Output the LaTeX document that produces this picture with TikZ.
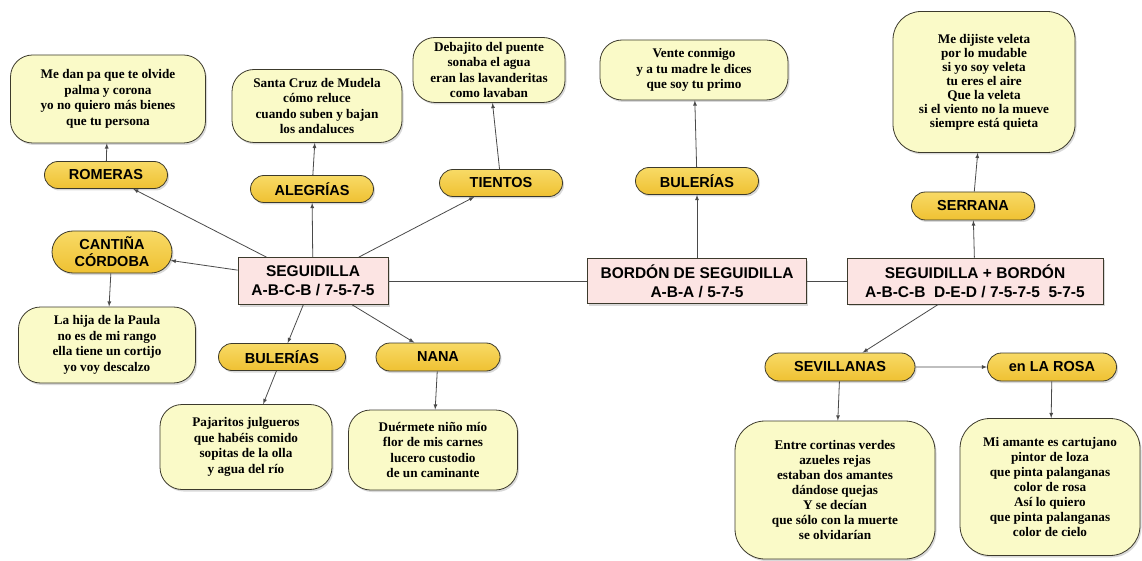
\documentclass[tikz,border=0pt]{standalone}
\usepackage{fontspec}
\setmainfont{Liberation Serif}
\setsansfont{Liberation Sans}
\usetikzlibrary{shapes.misc, arrows, shadows, scopes}
\definecolor{vfill}{HTML}{FAFAC8}
\definecolor{ytop}{HTML}{F8DA66}
\definecolor{ybot}{HTML}{EFC132}
\definecolor{pfill}{HTML}{FCE4E3}
\definecolor{bord}{HTML}{3C3A2C}
\definecolor{lgray}{HTML}{4A4A4A}
\tikzset{
  >= latex,
  sz/.style 2 args={minimum width=#1, minimum height=#2},
  shd/.style={drop shadow={opacity=0.3, shadow xshift=1.5pt, shadow yshift=-2pt}},
  vb/.style={rectangle, rounded corners=#1, draw=bord, fill=vfill, thick, align=center, inner sep=2pt,
    font=\bfseries\fontsize{13.2}{15.5}\selectfont, shd},
  vb/.default=22pt,
  fb/.style={rounded rectangle, draw=bord, top color=ytop, bottom color=ybot, thick, align=center,
    inner sep=0pt, sz={123pt}{27pt}, font=\sffamily\bfseries\fontsize{14.5}{17}\selectfont, shd},
  mb/.style={rectangle, draw=bord, fill=pfill, thick, align=center, inner sep=0pt,
    font=\sffamily\bfseries\fontsize{15.5}{19}\selectfont, shd},
  ln/.style={draw=lgray, line width=0.8pt}
}
\begin{document}
\begin{tikzpicture}[x=1pt, y=-1pt]
  \useasboundingbox (0,0) rectangle (1142,561);
  % formas principales
  \node[mb, sz={150pt}{47pt}] (seg) at (313,281) {SEGUIDILLA\\A-B-C-B / 7-5-7-5};
  \node[mb, sz={219pt}{45pt}] (bor) at (697,281) {BORD\'ON DE SEGUIDILLA\\A-B-A / 5-7-5};
  \node[mb, sz={256pt}{46pt}] (segb) at (975,281) {SEGUIDILLA + BORD\'ON\\A-B-C-B\ \ D-E-D / 7-5-7-5\ \ 5-7-5};
  % palos
  \node[fb] (rom) at (106,175) {ROMERAS};
  \node[fb] (ale) at (312,189) {ALEGR\'IAS};
  \node[fb] (tie) at (501,183) {TIENTOS};
  \node[fb] (bul) at (697,181) {BULER\'IAS};
  \node[fb, sz={123pt}{28pt}] (ser) at (973,206) {SERRANA};
  \node[fb, sz={120pt}{42pt}] (can) at (112,252) {CANTI\~NA\\C\'ORDOBA};
  \node[fb, sz={127pt}{27pt}] (bulb) at (282,357) {BULER\'IAS};
  \node[fb, sz={124pt}{28pt}] (nan) at (438,357) {NANA};
  \node[fb, sz={150pt}{28pt}] (sev) at (840,367) {SEVILLANAS};
  \node[fb, sz={129pt}{28pt}] (ros) at (1052,367) {en LA ROSA};
  % coplas
  \node[vb, sz={195pt}{88pt}] (vrom) at (108,99) {Me dan pa que te olvide\\palma y corona\\yo no quiero m\'as bienes\\que tu persona};
  \node[vb, sz={170pt}{73pt}] (vale) at (317,106) {Santa Cruz de Mudela\\c\'omo reluce\\cuando suben y bajan\\los andaluces};
  \node[vb, sz={152pt}{65pt}] (vtie) at (489,70) {Debajito del puente\\sonaba el agua\\eran las lavanderitas\\como lavaban};
  \node[vb, sz={188pt}{60pt}] (vbul) at (694,70) {Vente conmigo\\y a tu madre le dices\\que soy tu primo};
  \node[vb=28pt, sz={182pt}{141pt}, font=\bfseries\fontsize{13.2}{14}\selectfont] (vser) at (984,82) {Me dijiste veleta\\por lo mudable\\si yo soy veleta\\tu eres el aire\\Que la veleta\\si el viento no la mueve\\siempre est\'a quieta};
  \node[vb, sz={177pt}{76pt}] (vcan) at (107,345) {La hija de la Paula\\no es de mi rango\\ella tiene un cortijo\\yo voy descalzo};
  \node[vb, sz={172pt}{85pt}] (vpaj) at (246,447) {Pajaritos julgueros\\que hab\'eis comido\\sopitas de la olla\\y agua del r\'io};
  \node[vb, sz={169pt}{80pt}] (vdue) at (433,450) {Du\'ermete ni\~no m\'io\\flor de mis carnes\\lucero custodio\\de un caminante};
  \node[vb=30pt, sz={200pt}{138pt}, font=\bfseries\fontsize{13.2}{15}\selectfont] (vsev) at (835,490) {Entre cortinas verdes\\azueles rejas\\estaban dos amantes\\d\'andose quejas\\Y se dec\'ian\\que s\'olo con la muerte\\se olvidar\'ian};
  \node[vb=30pt, sz={180pt}{137pt}, font=\bfseries\fontsize{13.2}{15}\selectfont] (vros) at (1050,487) {Mi amante es cartujano\\pintor de loza\\que pinta palanganas\\color de rosa\\As\'i lo quiero\\que pinta palanganas\\color de cielo};
  % conexiones
  {[ln]
    \draw(seg)edge(bor);
    \draw(bor)edge(segb);
  }
  {[ln, ->]
    \draw(seg)edge(rom) (seg)edge(ale) (seg)edge(tie) (seg)edge(can);
    \draw(seg)edge(bulb) (seg)edge(nan);
    \draw(rom)edge(vrom) (ale)edge(vale) (tie)edge(vtie) (can)edge(vcan);
    \draw(bulb)edge(vpaj) (nan)edge(vdue);
    \draw(bor)edge(bul) (bul)edge(vbul);
    \draw(segb)edge(ser) (ser)edge(vser);
    \draw(segb)edge(sev) (sev)edge(ros);
    \draw(sev)edge(vsev) (ros)edge(vros);
  }
\end{tikzpicture}
\end{document}
